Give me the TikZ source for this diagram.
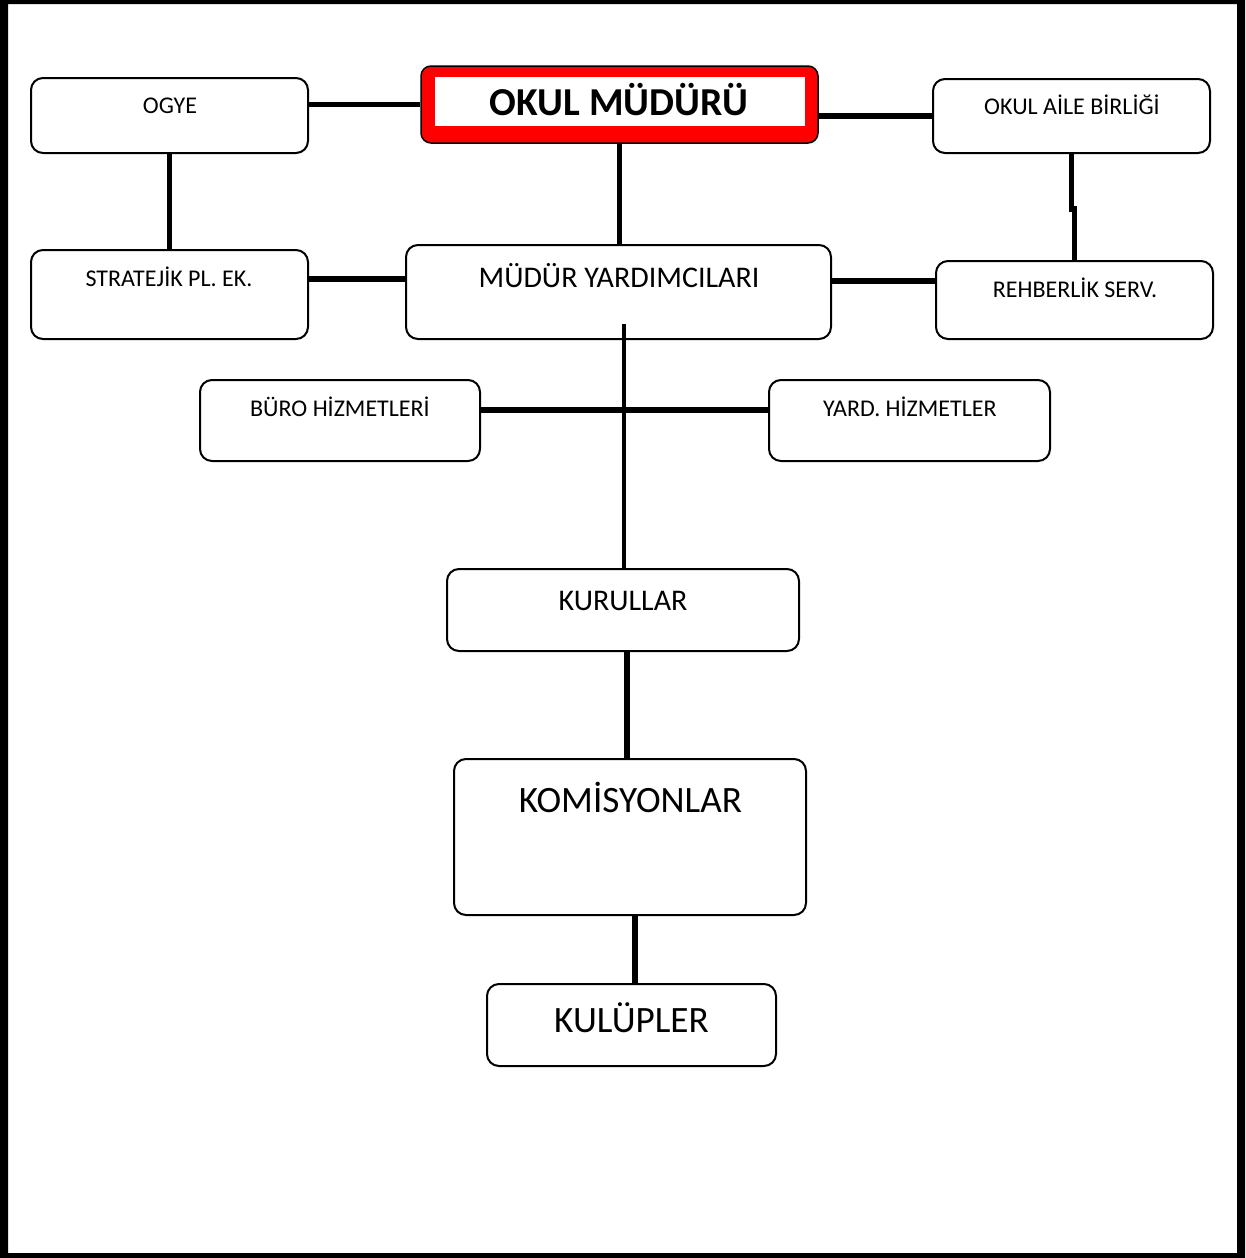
\documentclass[tikz,border=0pt]{standalone}
\usepackage{fontspec}
\setmainfont{Carlito}
\begin{document}
\begin{tikzpicture}[x=1pt,y=-1pt,
  box/.style={draw=black,line width=2pt,rounded corners=12pt,fill=white,inner sep=0pt},
  conn/.style={draw=black,line width=5.5pt},
  sm/.style={anchor=base,inner sep=0pt,font=\fontsize{24}{28}\selectfont},
  md/.style={anchor=base,inner sep=0pt,font=\fontsize{30}{34}\selectfont},
  lg/.style={anchor=base,inner sep=0pt,font=\fontsize{37.2}{42}\selectfont}]
\useasboundingbox (0,0) rectangle (1245,1258);
\fill[white] (0,0) rectangle (1245,1258);
\fill[black,even odd rule] (0,0) rectangle (1245,1258) (8,4) rectangle (1237,1253);

% boxes
\node[box,minimum width=277pt,minimum height=75pt] (ogye) at (169.5,115.5) {};
\node[draw=black,line width=1.5pt,rounded corners=10pt,fill=red,inner sep=0pt,minimum width=397pt,minimum height=77pt] (mud) at (619.5,104.5) {};
\fill[white] (435,77) rectangle (805,126);
\node[box,minimum width=277pt,minimum height=74pt] (aile) at (1071.5,116) {};
\node[box,minimum width=277pt,minimum height=89pt] (strat) at (169.5,294.5) {};
\node[box,minimum width=425pt,minimum height=94pt] (yard) at (618.5,292) {};
\node[box,minimum width=277pt,minimum height=78pt] (rehb) at (1074.5,300) {};
\node[box,minimum width=280pt,minimum height=81pt] (buro) at (340,420.5) {};
\node[box,minimum width=281pt,minimum height=81pt] (yhiz) at (909.5,420.5) {};
\node[box,minimum width=352pt,minimum height=82pt] (kur) at (623,610) {};
\node[box,minimum width=352pt,minimum height=156pt] (kom) at (630,837) {};
\node[box,minimum width=289pt,minimum height=82pt] (kul) at (631.5,1025) {};

% texts
\node[sm] (tOgye) at (170,113) {OGYE};
\node[anchor=base,inner sep=0pt,font=\fontsize{39.6}{44}\selectfont\bfseries] (tMud) at (619,115) {OKUL MÜDÜRÜ};
\node[sm] (tAile) at (1072,114) {OKUL AİLE BİRLİĞİ};
\node[sm] (tStrat) at (169,286) {STRATEJİK PL. EK.};
\node[md] (tYard) at (619,287) {MÜDÜR YARDIMCILARI};
\node[sm] (tRehb) at (1075,297) {REHBERLİK SERV.};
\node[sm] (tBuro) at (340,416) {BÜRO HİZMETLERİ};
\node[sm] (tYhiz) at (910,416) {YARD. HİZMETLER};
\node[md] (tKur) at (623,610) {KURULLAR};
\node[lg] (tKom) at (630.5,812) {KOMİSYONLAR};
\node[lg] (tKul) at (631.5,1032) {KULÜPLER};

% helper coordinates
\path ([yshift=15.5pt]strat.east) coordinate (s1);
\path ([yshift=11pt]yard.east) coordinate (r1);
\path (yard.south -| kur.north) ++(1,-16) coordinate (v1);
\path ([yshift=10.5pt]buro.east) coordinate (b1);
\path ([xshift=4pt]kur.south) coordinate (k1);
\path ([xshift=3.5pt]kul.north) coordinate (k2);

% connectors
\draw[conn] (ogye.east |- mud.west) -- (mud.west);
\draw[conn] (mud.east |- aile.west) -- (aile.west);
\draw[conn] (ogye.south) -- (strat.north);
\draw[conn] (mud.south) -- (mud.south |- yard.north);
\draw[conn] (aile.south) -- ++(0,55) -| (rehb.north);
\draw[conn] (s1) -- (s1 -| yard.west);
\draw[conn] (r1) -- (r1 -| rehb.west);
\draw[draw=black,line width=4.5pt] (v1) -- (v1 |- kur.north);
\draw[conn] (b1) -- (b1 -| yhiz.west);
\draw[conn] (k1) -- (k1 |- kom.north);
\draw[conn] (k2 |- kom.south) -- (k2);
\end{tikzpicture}
\end{document}
